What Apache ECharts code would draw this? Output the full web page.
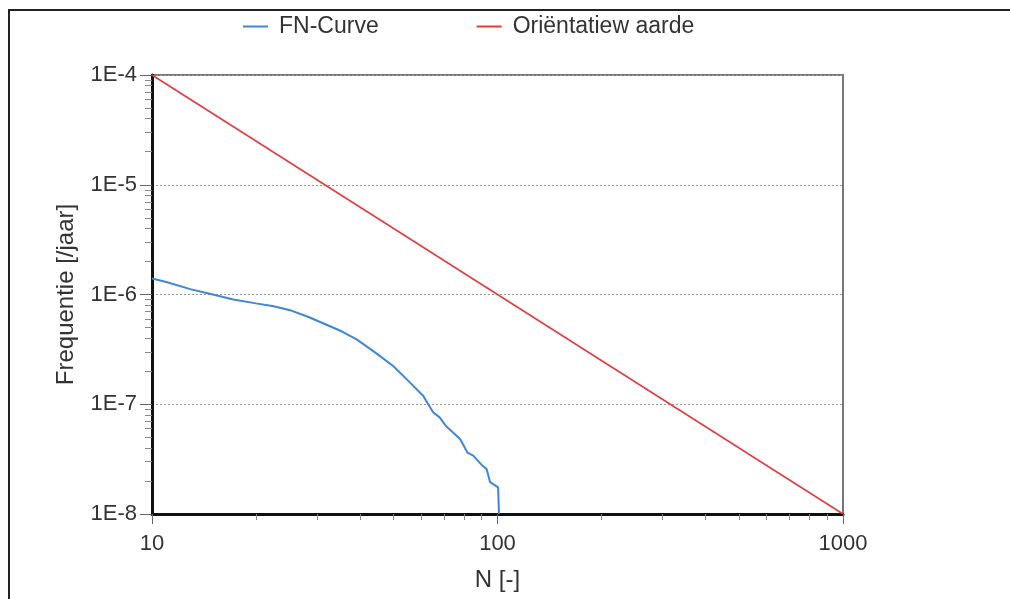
<!DOCTYPE html>
<html>
<head>
<meta charset="utf-8">
<script src="https://cdn.jsdelivr.net/npm/echarts@6/dist/echarts.min.js"></script>
<style>
  html, body { margin: 0; padding: 0; background: #fff; }
  #fnchart { width: 1010px; height: 599px; }
</style>
</head>
<body>
<div id="fnchart"></div>
<script>
// FN-curve
const fnN = [10, 11, 12.9, 15, 17.2, 20, 22.5, 25.1, 28.5, 32, 35.5, 39.1, 44, 49.9, 55, 61, 63, 65.2, 68, 71, 74.5, 78, 82, 85.1, 90, 93, 95.2, 100.4, 101]
const fnF = [1.4e-6, 1.3e-6, 1.12e-6, 1.0e-6, 9.0e-7, 8.3e-7, 7.8e-7, 7.2e-7, 6.2e-7, 5.3e-7, 4.6e-7, 3.9e-7, 3.0e-7, 2.23e-7, 1.65e-7, 1.19e-7, 1.0e-7, 8.4e-8, 7.6e-8, 6.3e-8, 5.5e-8, 4.8e-8, 3.6e-8, 3.4e-8, 2.8e-8, 2.57e-8, 1.95e-8, 1.75e-8, 1.0e-8]
// orientatiewaarde
const oriN = [10, 1000]
const oriF = [1e-4, 1e-8]

const xMinorTicks = [20, 30, 40, 50, 60, 70, 80, 90, 200, 300, 400, 500, 600, 700, 800, 900]
const yMinorTicks = []
for (const d of [1e-8, 1e-7, 1e-6, 1e-5]) {
  for (const k of [2, 3, 4, 5, 6, 7, 8, 9]) yMinorTicks.push(k * d)
}

const FONT = 'Liberation Sans, Arial, sans-serif'
const txt = '#333'

const pairs = (xs, ys) => xs.map((x, i) => [x, ys[i]])

const chart = echarts.init(document.getElementById('fnchart'))
chart.setOption({
  animation: false,
  grid: {
    left: 152, top: 75, right: 167, bottom: 85,
    show: true, borderColor: '#777', borderWidth: 2
  },
  graphic: [{
    type: 'rect',
    shape: { x: 9, y: 10, width: 1200, height: 800 },
    style: { fill: 'none', stroke: '#222', lineWidth: 2 }
  }],
  legend: {
    top: 10, left: 238,
    icon: 'rect', itemWidth: 25, itemHeight: 2, itemGap: 98,
    textStyle: { fontFamily: FONT, fontSize: 23, color: txt, padding: [0, 0, 0, 6] },
    data: ['FN-Curve', 'Oriëntatiew aarde']
  },
  xAxis: [{
    type: 'log', min: 10, max: 1000, logBase: 10,
    name: 'N [-]', nameLocation: 'middle', nameGap: 54,
    nameTextStyle: { fontFamily: FONT, fontSize: 24, color: txt },
    axisLine: { lineStyle: { color: '#111', width: 3 } },
    axisTick: { length: 10, lineStyle: { color: '#666' } },
    axisLabel: { fontFamily: FONT, fontSize: 22, color: txt, margin: 19, formatter: v => String(v) },
    splitLine: { show: false }
  }, {
    // minor ticks, log10 space
    type: 'value', min: 1, max: 3, position: 'bottom',
    axisLine: { show: false },
    axisTick: { show: true, length: 6, lineStyle: { color: '#888' }, customValues: xMinorTicks.map(Math.log10) },
    axisLabel: { show: false },
    splitLine: { show: false }
  }],
  yAxis: [{
    type: 'log', min: 1e-8, max: 1e-4, logBase: 10,
    name: 'Frequentie [/jaar]', nameLocation: 'middle', nameGap: 74,
    nameTextStyle: { fontFamily: FONT, fontSize: 24, color: txt },
    axisLine: { lineStyle: { color: '#111', width: 3 } },
    axisTick: { length: 12, lineStyle: { color: '#666' } },
    axisLabel: {
      fontFamily: FONT, fontSize: 22, color: txt, margin: 15,
      formatter: v => '1E' + Math.round(Math.log10(v))
    },
    splitLine: { show: true, lineStyle: { color: '#999', type: [2, 2], width: 1 } }
  }, {
    type: 'value', min: -8, max: -4, position: 'left',
    axisLine: { show: false },
    axisTick: { show: true, length: 7, lineStyle: { color: '#888' }, customValues: yMinorTicks.map(Math.log10) },
    axisLabel: { show: false },
    splitLine: { show: false }
  }],
  series: [
    {
      name: 'FN-Curve', type: 'line', xAxisIndex: 0, yAxisIndex: 0,
      data: pairs(fnN, fnF), showSymbol: false, symbol: 'none',
      lineStyle: { color: '#3f86d8', width: 2 }, itemStyle: { color: '#3f86d8' }
    },
    {
      name: 'Oriëntatiew aarde', type: 'line', xAxisIndex: 0, yAxisIndex: 0,
      data: pairs(oriN, oriF), showSymbol: false, symbol: 'none',
      lineStyle: { color: '#e23a3f', width: 1.5 }, itemStyle: { color: '#e23a3f' }
    }
  ]
})
</script>
</body>
</html>
